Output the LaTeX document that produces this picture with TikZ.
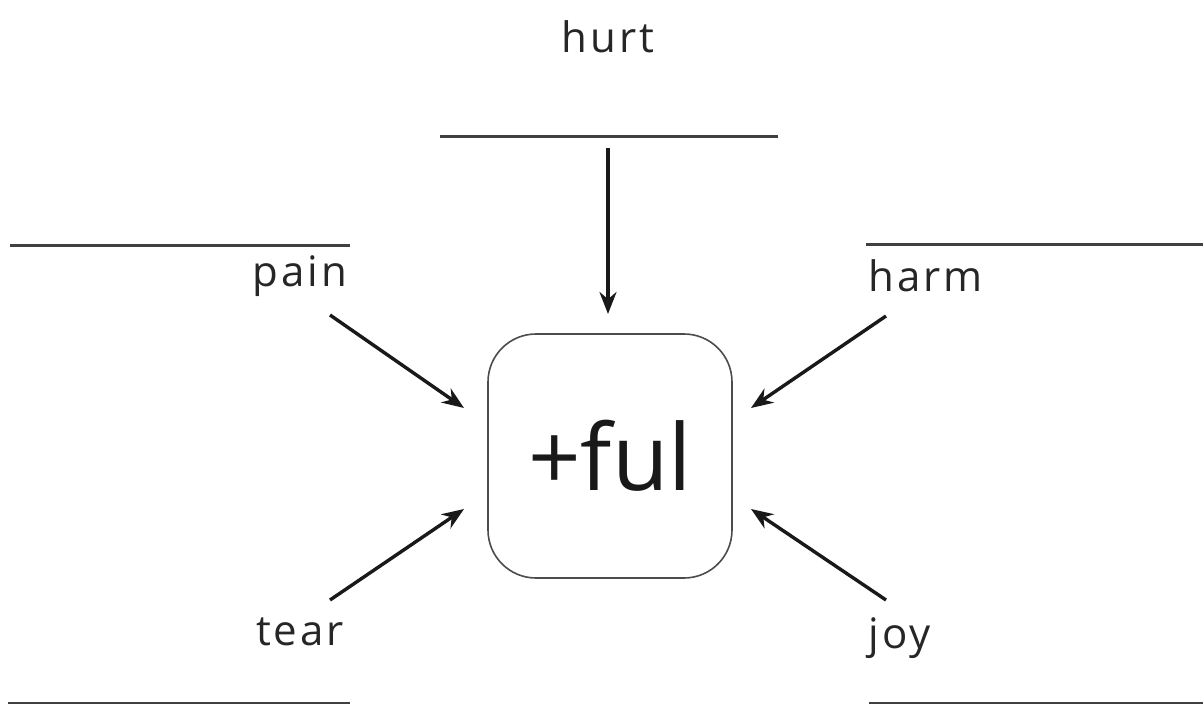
\documentclass[tikz,border=0pt]{standalone}
\usepackage{fontspec}
\setmainfont{Open Sans}
\newfontfamily\wordfont[LetterSpace=7]{Open Sans}
\usetikzlibrary{arrows.meta}
\tikzset{
  word/.style={font=\wordfont\fontsize{42}{50}\selectfont, text=black!85, inner sep=0pt},
  rule/.style={line width=3pt, black!75},
  arr/.style={line width=3.4pt, black!90, -{Stealth[length=22pt,width=17pt]}},
  centre/.style={draw=black!70, line width=1.6pt, rounded corners=48pt, minimum width=244pt, minimum height=244pt, font=\fontsize{92}{100}\selectfont, text=black!90}
}
\begin{document}
\begin{tikzpicture}[x=1pt,y=-1pt]
\useasboundingbox (0,0) rectangle (1203,704);
% centre box
\node[centre] (box) at (610,456) {+ful};
% words
\node[word] (hurt) at (608,37) {hurt};
\node[word] (pain) at (300,276) {pain};
\node[word] (harm) at (926,276) {harm};
\node[word] (tear) at (300,632) {tear};
\node[word] (joy) at (900,638) {joy};
% answer lines
\coordinate (tl1) at (440,136); \coordinate (tl2) at (778,136);
\coordinate (ll1) at (10,245); \coordinate (ll2) at (350,245);
\coordinate (rl1) at (866,244); \coordinate (rl2) at (1203,244);
\coordinate (bl1) at (8,703); \coordinate (bl2) at (350,703);
\coordinate (br1) at (869,703); \coordinate (br2) at (1203,703);
\draw[rule] (tl1) -- (tl2);
\draw[rule] (ll1) -- (ll2);
\draw[rule] (rl1) -- (rl2);
\draw[rule] (bl1) -- (bl2);
\draw[rule] (br1) -- (br2);
% arrows
\coordinate (a1s) at (608,148); \coordinate (a1e) at (608,314);
\coordinate (a2s) at (330,315); \coordinate (a2e) at (464,408);
\coordinate (a3s) at (886,316); \coordinate (a3e) at (751,408);
\coordinate (a4s) at (330,600); \coordinate (a4e) at (464,509);
\coordinate (a5s) at (886,600); \coordinate (a5e) at (751,509);
\draw[arr] (a1s) -- (a1e);
\draw[arr] (a2s) -- (a2e);
\draw[arr] (a3s) -- (a3e);
\draw[arr] (a4s) -- (a4e);
\draw[arr] (a5s) -- (a5e);
\end{tikzpicture}
\end{document}
